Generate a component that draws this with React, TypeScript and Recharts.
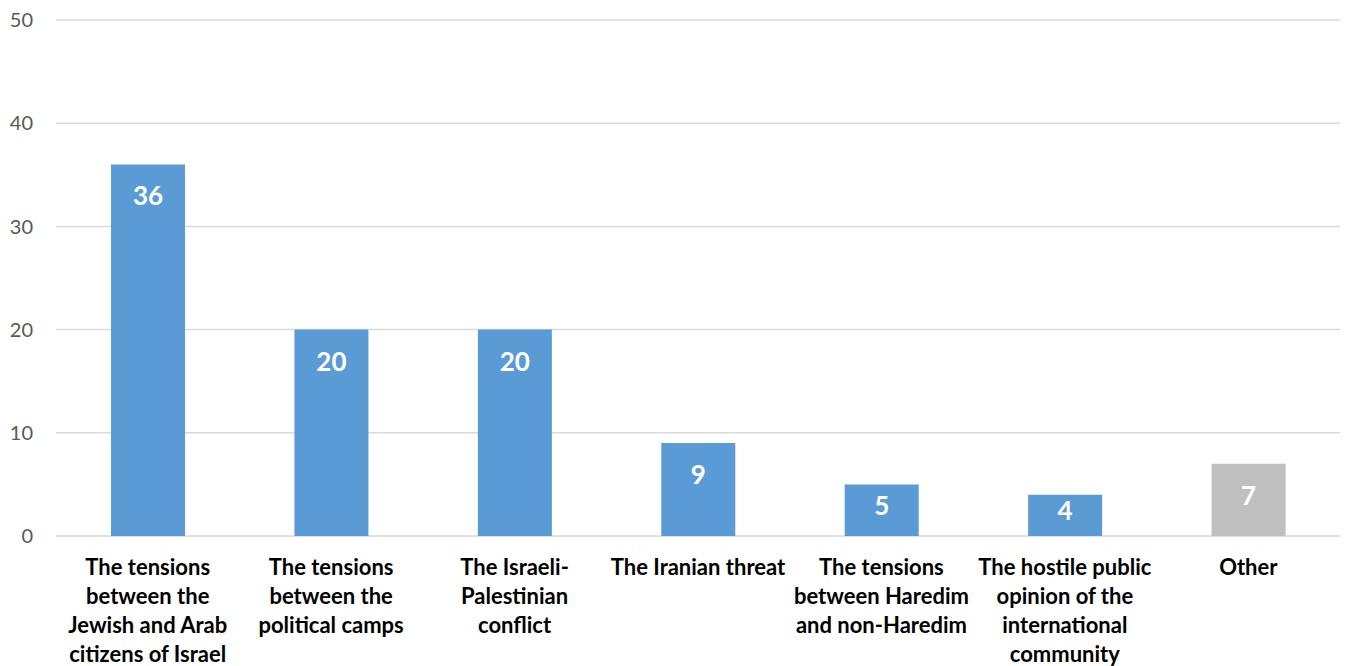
import { BarChart, Bar, XAxis, YAxis, CartesianGrid, LabelList, Cell } from "recharts";

// categories, one array of lines per label (wrapped as in the source)
const categoryLines = [
    ["The tensions", "between the", "Jewish and Arab", "citizens of Israel"],
    ["The tensions", "between the", "political camps"],
    ["The Israeli-", "Palestinian", "conflict"],
    ["The Iranian threat"],
    ["The tensions", "between Haredim", "and non-Haredim"],
    ["The hostile public", "opinion of the", "international", "community"],
    ["Other"],
];
const values = [36, 20, 20, 9, 5, 4, 7];
const yTicks = [0, 10, 20, 30, 40, 50];

const BLUE = "#5B9BD5";
const GREY = "#BFBFBF";
const FONT = "Lato, 'Open Sans', sans-serif";

const chartData = categoryLines.map((lines, i) => ({
    name: lines.join(" "),
    lines,
    value: values[i],
}));

function CategoryTick(props: any) {
    const { x, y, index } = props;
    const lines: string[] = chartData[index]?.lines ?? [];
    return (
        <text
            x={x}
            y={y}
            textAnchor="middle"
            fill="#000000"
            fontFamily={FONT}
            fontWeight={700}
            fontSize={22}
        >
            {lines.map((l, i) => (
                <tspan key={i} x={x} dy={i === 0 ? 39 : 29}>
                    {l}
                </tspan>
            ))}
        </text>
    );
}

// inside-end label, pulled toward the middle on short bars (like Excel does)
function ValueLabel(props: any) {
    const { x, y, width, height, value } = props;
    const cy = y + Math.min(31, height / 2 - 5);
    return (
        <text
            x={x + width / 2}
            y={cy}
            textAnchor="middle"
            dominantBaseline="central"
            fill="#ffffff"
            fontFamily={FONT}
            fontWeight={700}
            fontSize={26}
        >
            {value}
        </text>
    );
}

export default function App() {
    return (
        <div style={{ position: "absolute", left: 0, top: 0, width: 1348, height: 666, background: "#fff" }}>
            <BarChart
                width={1348}
                height={666}
                data={chartData}
                margin={{ top: 20, right: 8, bottom: 0, left: 0 }}
            >
                <CartesianGrid stroke="#D9D9D9" strokeWidth={1.5} vertical={false} />
                <XAxis
                    dataKey="name"
                    interval={0}
                    height={130}
                    axisLine={false}
                    tickLine={false}
                    tickSize={0}
                    tickMargin={0}
                    tick={<CategoryTick />}
                />
                <YAxis
                    domain={[0, 50]}
                    ticks={yTicks}
                    width={56}
                    axisLine={false}
                    tickLine={false}
                    tickSize={0}
                    tickMargin={23}
                    tick={{ fill: "#595959", fontSize: 20, fontFamily: FONT }}
                />
                <Bar dataKey="value" barSize={74} isAnimationActive={false}>
                    {chartData.map((d, i) => (
                        <Cell key={i} fill={d.name === "Other" ? GREY : BLUE} />
                    ))}
                    <LabelList dataKey="value" content={<ValueLabel />} />
                </Bar>
            </BarChart>
        </div>
    );
}
